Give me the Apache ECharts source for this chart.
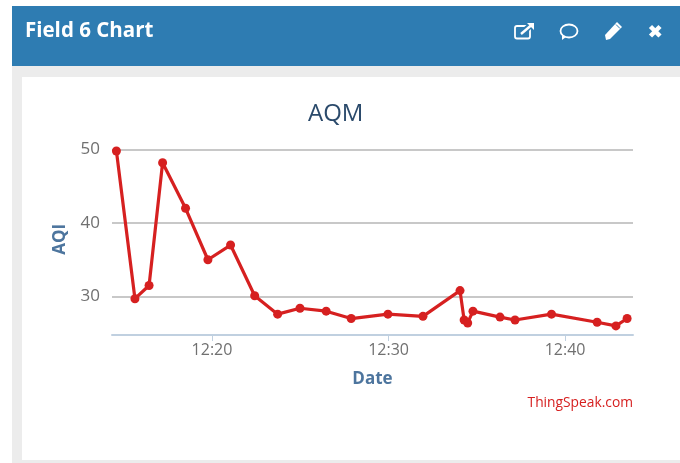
<!DOCTYPE html>
<html>
<head>
<meta charset="utf-8">
<style>html,body{margin:0;padding:0;background:#fff}#main{width:680px;height:463px}</style>
<script src="https://cdn.jsdelivr.net/npm/echarts@6/dist/echarts.min.js"></script>
</head>
<body>
<div id="main"></div>
<script>
// Readings
const times = ['12:14:35','12:15:38','12:16:26','12:17:12','12:18:30','12:19:46','12:21:03','12:22:25',
    '12:23:43','12:24:59','12:26:28','12:27:53','12:29:58','12:31:57','12:34:03','12:34:17',
    '12:34:29','12:34:47','12:36:19','12:37:10','12:39:14','12:41:49','12:42:53','12:43:31'];
const aqi = [49.8,29.7,31.5,48.2,42,35,37,30.1,27.6,28.4,28,27,27.6,27.3,30.8,26.8,26.4,28,27.2,26.8,27.6,26.5,26,27];
const day = '2021-03-01 ';
const xTicks = ['12:20:00', '12:30:00', '12:40:00'];
const yTicks = [30, 40, 50];

const toMs = t => new Date(day + t).getTime();
const xTickValues = xTicks.map(toMs);

const chart = echarts.init(document.getElementById('main'));
const white = '#ffffff';
const blue = '#2e7cb2';

chart.setOption({
    animation: false,
    backgroundColor: '#fff',
    title: {
        text: 'AQM',
        left: 303, top: 97,
        textStyle: {color: '#2b4a6b', fontSize: 24, fontWeight: 'normal', fontFamily: 'Open Sans'}
    },
    grid: {left: 112, right: 47, top: 149.5, height: 185.5},
    xAxis: {
        // value axis in ms, a time axis breaks on customValues
        type: 'value',
        min: toMs('12:14:20'),
        max: toMs('12:43:51'),
        name: 'Date',
        nameLocation: 'middle',
        nameGap: 36,
        nameTextStyle: {color: '#4d759e', fontSize: 17, fontWeight: 'bold', fontFamily: 'Open Sans'},
        axisLine: {lineStyle: {color: '#c0d0e0', width: 2}},
        axisTick: {show: true, length: 6, customValues: xTickValues, lineStyle: {color: '#c0d0e0', width: 1}},
        splitLine: {show: false},
        axisLabel: {
            customValues: xTickValues,
            formatter: v => echarts.time.format(v, '{HH}:{mm}', false),
            color: '#707070', fontSize: 16, fontFamily: 'Open Sans', margin: 7
        }
    },
    yAxis: {
        type: 'value',
        min: 24.76,
        max: 50,
        name: 'AQI',
        nameLocation: 'middle',
        nameGap: 43,
        nameTextStyle: {color: '#4d759e', fontSize: 17, fontWeight: 'bold', fontFamily: 'Open Sans', padding: [0, 0, 0, 6]},
        axisLine: {show: false},
        axisTick: {show: false, customValues: yTicks},
        axisLabel: {customValues: yTicks, color: '#707070', fontSize: 17, fontFamily: 'Open Sans', margin: 12},
        splitLine: {show: true, lineStyle: {color: '#c8c8c8', width: 2}}
    },
    series: [{
        type: 'line',
        data: times.map((t, i) => [toMs(t), aqi[i]]),
        color: '#d62020',
        lineStyle: {width: 3.2, color: '#d62020'},
        symbol: 'circle',
        symbolSize: 9,
        clip: false
    }],
    graphic: [
        {type: 'rect', z: -10, shape: {x: 12, y: 6, width: 668, height: 457}, style: {fill: '#ececec'}},
        {type: 'rect', z: -9, shape: {x: 22, y: 77, width: 658, height: 383}, style: {fill: white}},
        {type: 'rect', z: -8, shape: {x: 12, y: 6, width: 668, height: 60}, style: {fill: blue}},
        {type: 'text', z: 10, x: 25, y: 21, style: {text: 'Field 6 Chart', fill: white, font: 'bold 20.5px "Open Sans"'}},
        {type: 'text', z: 10, x: 633, y: 396, style: {text: 'ThingSpeak.com', fill: '#d62020', align: 'right', font: '13.8px "Open Sans"'}},
        // Header icons
        {type: 'rect', z: 10, shape: {x: 515, y: 26, width: 15, height: 12.5, r: 2}, style: {fill: 'none', stroke: white, lineWidth: 1.8}},
        {type: 'line', z: 11, shape: {x1: 521, y1: 34, x2: 531, y2: 25}, style: {stroke: blue, lineWidth: 6}},
        {type: 'line', z: 12, shape: {x1: 521, y1: 34, x2: 531, y2: 25.5}, style: {stroke: white, lineWidth: 2.4}},
        {type: 'polygon', z: 12, shape: {points: [[527,23],[534,23],[534,30]]}, style: {fill: white}},
        {type: 'ellipse', z: 10, shape: {cx: 569, cy: 31, rx: 8.5, ry: 6.5}, style: {fill: 'none', stroke: white, lineWidth: 1.8}},
        {type: 'polygon', z: 11, shape: {points: [[562,34],[566,37],[562,40]]}, style: {fill: white}},
        {type: 'polygon', z: 10, shape: {points: [[617,22],[622,27],[610,39],[606,40],[605,35]]}, style: {fill: white}},
        {type: 'line', z: 10, shape: {x1: 616, y1: 24.5, x2: 620, y2: 28.5}, style: {stroke: blue, lineWidth: 1}},
        {type: 'line', z: 10, shape: {x1: 650.5, y1: 26.5, x2: 660, y2: 36}, style: {stroke: white, lineWidth: 4.5}},
        {type: 'line', z: 10, shape: {x1: 660, y1: 26.5, x2: 650.5, y2: 36}, style: {stroke: white, lineWidth: 4.5}}
    ]
});
</script>
</body>
</html>
